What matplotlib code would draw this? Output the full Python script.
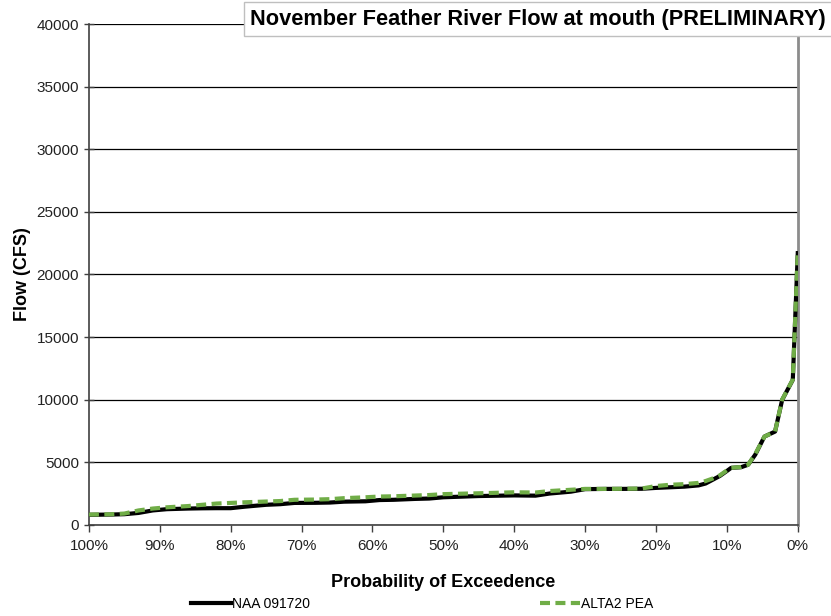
import matplotlib
matplotlib.use("Agg")
import matplotlib.pyplot as plt
from matplotlib.ticker import FuncFormatter

plt.rcParams['font.family'] = ['Liberation Sans', 'DejaVu Sans']

# probability of exceedence (%) and flow (cfs)
exceed = [100, 97, 95, 93, 91, 89, 86, 84, 82, 80, 78, 75, 73, 71, 68, 66, 64,
          61, 59, 57, 54, 52, 50, 48, 45, 43, 40, 37, 35, 32, 30, 27, 25, 22,
          20, 18, 16, 14, 13, 12, 11, 10, 9.4, 8, 7, 6, 4.7, 3.2, 2.2, 0.7, 0]
naa = [800, 820, 850, 950, 1150, 1250, 1300, 1320, 1330, 1330, 1450, 1600,
       1650, 1750, 1760, 1780, 1850, 1880, 1980, 2000, 2070, 2100, 2200, 2240,
       2300, 2320, 2350, 2330, 2500, 2650, 2850, 2870, 2870, 2880, 2950, 3000,
       3050, 3150, 3300, 3600, 3900, 4300, 4550, 4600, 4800, 5600, 7050, 7450,
       9980, 11580, 21700]
alta = [820, 840, 900, 1150, 1300, 1400, 1500, 1600, 1700, 1750, 1800, 1860,
        1900, 2000, 2020, 2050, 2130, 2200, 2260, 2280, 2340, 2380, 2450, 2480,
        2520, 2550, 2600, 2580, 2700, 2800, 2870, 2870, 2880, 2900, 3100, 3200,
        3250, 3350, 3500, 3700, 3950, 4350, 4550, 4620, 4800, 5650, 7050, 7450,
        10000, 11600, 21800]

fig = plt.figure(figsize=(8.31, 6.16), dpi=100)
ax = fig.add_axes([0.107, 0.148, 0.853, 0.813])

ax.plot(exceed, naa, color='black', lw=3, label='NAA 091720', zorder=3)
ax.plot(exceed, alta, color='#70ad47', lw=3, ls=(0, (2.4, 1.3)),
        label='ALTA2 PEA', zorder=4)

ax.set_xlim(100, 0)
ax.set_ylim(0, 40000)
ax.set_xticks(range(100, -1, -10))
ax.xaxis.set_major_formatter(FuncFormatter(lambda v, p: f"{int(v)}%"))
ax.set_yticks(range(0, 40001, 5000))
ax.yaxis.grid(True, color='black', lw=0.9)
ax.set_axisbelow(True)

for s in ['left', 'bottom']:
    ax.spines[s].set_color('#404040')
    ax.spines[s].set_linewidth(1.2)
ax.spines['right'].set_color('#8c8c8c')
ax.spines['right'].set_linewidth(2)
ax.spines['top'].set_visible(False)
ax.tick_params(axis='both', direction='inout', length=7, width=1,
               color='#404040', labelsize=11, labelcolor='#222222')
ax.tick_params(axis='x', direction='out', length=5, pad=5)

ax.set_xlabel('Probability of Exceedence', fontsize=13, fontweight='bold',
              labelpad=15)
ax.set_ylabel('Flow (CFS)', fontsize=13, fontweight='bold', labelpad=4)

fig.text(0.994, 0.969, 'November Feather River Flow at mouth (PRELIMINARY)',
         ha='right', va='center', fontsize=15.7, fontweight='bold',
         bbox=dict(boxstyle='square,pad=0.3', fc='white', ec='#bfbfbf', lw=1))

fig.legend(loc='center', bbox_to_anchor=(0.508, 0.02), ncol=2, frameon=False,
           fontsize=10, handlelength=2.9, handletextpad=0.1,
           columnspacing=16.5)

fig.savefig('out.png', dpi=100)
